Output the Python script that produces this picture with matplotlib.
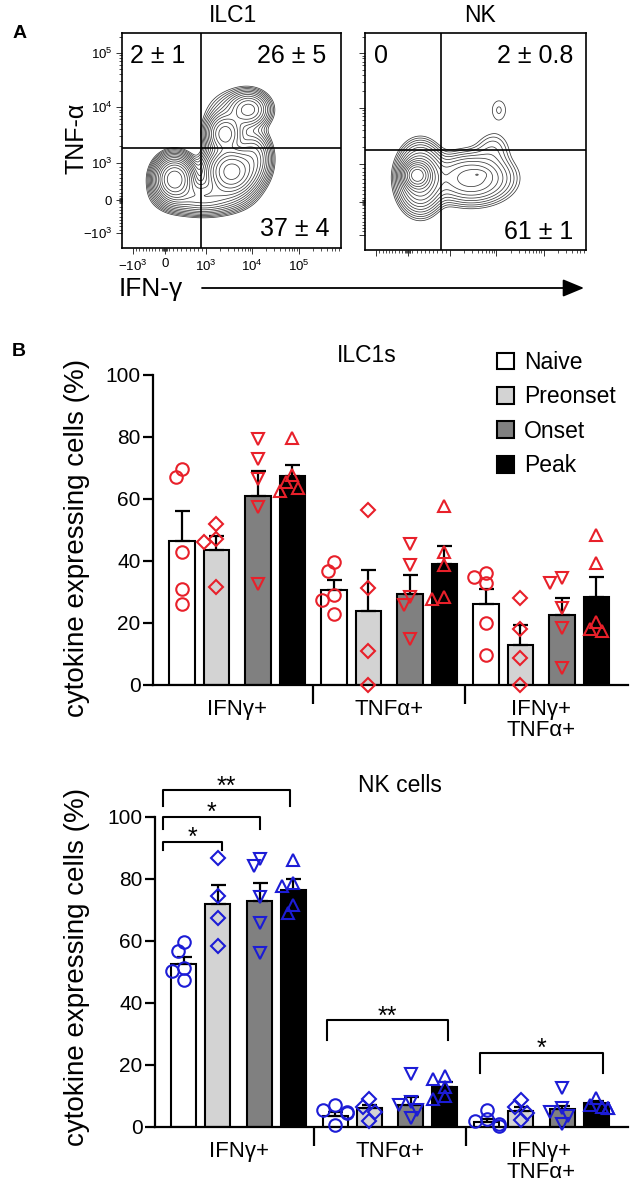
import numpy as np
import matplotlib
matplotlib.use("Agg")
import matplotlib.pyplot as plt

plt.rcParams['font.family'] = ['Liberation Sans', 'DejaVu Sans']
plt.rcParams['mathtext.fontset'] = 'custom'
plt.rcParams['mathtext.rm'] = 'Liberation Sans'
plt.rcParams['mathtext.it'] = 'Liberation Sans:italic'

W, H = 630, 1191

# ---------------- panel A : flow data, as density blobs
# (x, y, sx, sy, weight) in fractions of each plot box
ilc1_blobs = [(0.24, 0.32, 0.042, 0.048, 1.0),
              (0.50, 0.355, 0.055, 0.055, 0.9),
              (0.47, 0.53, 0.04, 0.045, 0.35),
              (0.58, 0.645, 0.045, 0.04, 0.22),
              (0.37, 0.24, 0.09, 0.04, 0.2),
              (0.60, 0.42, 0.04, 0.06, 0.18),
              (0.52, 0.62, 0.07, 0.06, 0.05)]
nk_blobs = [(0.235, 0.345, 0.03, 0.03, 1.0),
            (0.25, 0.33, 0.05, 0.075, 0.35),
            (0.48, 0.33, 0.095, 0.06, 0.18),
            (0.515, 0.35, 0.025, 0.012, 0.04),
            (0.58, 0.47, 0.05, 0.05, 0.025),
            (0.606, 0.645, 0.035, 0.05, 0.017)]
ilc1_quads = ['2 ± 1', '26 ± 5', '37 ± 4']
nk_quads = ['0', '2 ± 0.8', '61 ± 1']
flow_tick_labels = ['$-10^3$', '0', '$10^3$', '$10^4$', '$10^5$']

# ---------------- panel B : bar data
categories = ['Naive', 'Preonset', 'Onset', 'Peak']
groups = ['IFNγ+', 'TNFα+', 'IFNγ+\nTNFα+']

ilc1_mean = [[46.5, 43.5, 61, 67.5], [30.5, 24, 29.5, 39], [26, 13, 22.5, 28.5]]
ilc1_sem = [[9.5, 4.5, 8, 3.5], [3.5, 13, 6, 6], [5, 6.5, 5.5, 6.5]]
ilc1_ifng = [[69.7, 67, 43, 31, 26], [52, 47, 46, 31.6],
             [79.4, 73, 66.5, 57.4, 32.6], [79.7, 67.7, 65.5, 63.5, 62.7]]
ilc1_tnfa = [[39.7, 36.8, 29, 27.4, 23], [56.4, 31.3, 11, 0],
             [45.5, 38.7, 28.4, 25.8, 15], [57.7, 43, 38.7, 28.4, 27.7]]
ilc1_both = [[36, 35, 32.8, 20, 9.7], [28, 18, 8.7, 0],
             [34.5, 33, 24.8, 18.4, 5.4], [48.4, 39.3, 20.3, 18, 17.5]]

nk_mean = [[52.5, 72, 73, 76.5], [3.5, 6, 7, 13], [1.6, 5.2, 5.7, 7.7]]
nk_sem = [[2.5, 6, 5.7, 3.5], [1.2, 1.2, 2.6, 1.5], [1, 1.2, 1, 0.6]]
nk_ifng = [[59.7, 56.8, 51.3, 50.4, 47.4], [86.8, 74.6, 67.5, 58.4],
           [86.5, 84.2, 74.3, 65.8, 56], [86, 78.6, 77.8, 71.6, 69]]
nk_tnfa = [[7, 5.5, 5, 4.5, 0.5], [9, 6.5, 5, 2],
           [17, 8, 7, 5.5, 3], [16.5, 15.5, 13, 10, 9]]
nk_both = [[5.5, 2.5, 2, 1, 0.3], [8.7, 6.5, 4.5, 2.3],
           [12.5, 6, 5, 3.5, 1], [9.5, 7, 6.5, 6.2, 6]]

# (group, x left, x right, y, leg, label)
nk_sig = [(0, -0.138, 0.25, 92, 2.6, '*'),
          (0, -0.138, 0.50, 100, 4, '*'),
          (0, -0.138, 0.704, 108.7, 5.2, '**'),
          (1, -0.053, 0.743, 34.5, 6.5, '**'),
          (2, -0.046, 0.77, 24, 6.5, '*')]

bar_colors = ['white', '#d3d3d3', '#808080', 'black']
markers = ['o', 'D', 'v', '^']
offsets = [0, 0.224, 0.5, 0.724]
bw = 0.165
PX_X, PX_Y = 152.0, 3.1  # pixels per data unit in bar charts


def rect(l, t, r, b):
    return [l / W, 1 - b / H, (r - l) / W, (b - t) / H]


fig = plt.figure(figsize=(W / 100, H / 100), dpi=100)
over = fig.add_axes([0, 0, 1, 1])
over.set_xlim(0, W)
over.set_ylim(H, 0)
over.axis('off')
over.set_zorder(10)


def flow_ticks(ax, labels):
    maj = [0.05, 0.196, 0.384, 0.594, 0.808]
    minor = []
    for k in range(1, 10):
        minor.append(0.196 + 0.188 * k / 10)
        minor.append(0.196 - 0.146 * k / 10)
    for d in [0.003, 0.006, 0.009]:
        minor += [0.196 - d, 0.196 + d]
    for base, dec in [(0.384, 0.21), (0.594, 0.214), (0.808, 0.214)]:
        for k in range(2, 10):
            p = base + dec * np.log10(k)
            if p < 1:
                minor.append(p)
    ymaj = [0.07, 0.223, 0.395, 0.656, 0.907]
    yminor = []
    for k in range(1, 10):
        yminor.append(0.223 + 0.172 * k / 10)
        yminor.append(0.223 - 0.153 * k / 10)
    for d in [0.003, 0.006, 0.009]:
        yminor += [0.223 - d, 0.223 + d]
    for base, dec in [(0.395, 0.261), (0.656, 0.251), (0.907, 0.251)]:
        for k in range(2, 10):
            p = base + dec * np.log10(k)
            if p < 1:
                yminor.append(p)
    ax.set_xticks(maj)
    ax.set_yticks(ymaj)
    ax.set_xticks(minor, minor=True)
    ax.set_yticks(yminor, minor=True)
    if labels:
        ax.set_xticklabels(flow_tick_labels)
        ax.set_yticklabels(flow_tick_labels)
    else:
        ax.set_xticklabels([])
        ax.set_yticklabels([])
    ax.tick_params(which='major', length=4, width=0.7, color='#333333', labelsize=9.5, pad=3)
    ax.tick_params(axis='x', which='major', pad=3.5)
    ax.tick_params(which='minor', length=2.5, width=0.6, color='#333333')


def flow_panel(box, blobs, qx, qy, quads, quad_pos, labels):
    ax = fig.add_axes(rect(*box))
    g = np.linspace(0, 1, 400)
    X, Y = np.meshgrid(g, g)
    Z = np.zeros_like(X)
    for (cx, cy, sx, sy, w) in blobs:
        Z += w * np.exp(-0.5 * (((X - cx) / sx) ** 2 + ((Y - cy) / sy) ** 2))
    levels = Z.max() * 0.73 ** np.arange(15, 0, -1)
    ax.contour(X, Y, Z, levels=levels, colors='#3a3a3a', linewidths=0.55)
    ax.axvline(qx, color='black', lw=1.2)
    ax.axhline(qy, color='black', lw=1.2)
    ax.set_xlim(0, 1)
    ax.set_ylim(0, 1)
    for s in ax.spines.values():
        s.set_linewidth(1.2)
    flow_ticks(ax, labels)
    for txt, (x, y, ha) in zip(quads, quad_pos):
        over.text(x, y, txt, ha=ha, va='center', fontsize=18)
    return ax


flow_panel((122, 33, 341, 248), ilc1_blobs, 0.36, 0.465, ilc1_quads,
           [(130, 56, 'left'), (326, 56, 'right'), (329, 229, 'right')], True)
flow_panel((365, 33, 586, 250), nk_blobs, 0.344, 0.46, nk_quads,
           [(374, 56, 'left'), (573, 56, 'right'), (573, 232, 'right')], False)

over.text(20, 33, 'A', fontsize=14, fontweight='bold', ha='center', va='center')
over.text(233, 16, 'ILC1', fontsize=16.5, ha='center', va='center')
over.text(480, 16, 'NK', fontsize=16.5, ha='center', va='center')
over.text(77, 138, 'TNF-α', fontsize=18, rotation=90, ha='center', va='center')
over.text(119, 289, 'IFN-γ', fontsize=19, ha='left', va='center')
over.annotate('', xy=(584, 288), xytext=(202, 288),
              arrowprops=dict(arrowstyle='-|>,head_length=0.65,head_width=0.27',
                              mutation_scale=20, lw=1.3, color='black',
                              shrinkA=0, shrinkB=0))


# ---------------- panel B
def swarm(values, center, d_px=6, r_px=9):
    placed, xs = [], []
    for v in values:
        for k in [0, -1, 1, -2, 2]:
            x = k * d_px
            if all((x - px) ** 2 + ((v - pv) * PX_Y) ** 2 >= r_px ** 2 for px, pv in placed):
                break
        placed.append((x, v))
        xs.append(center + x / PX_X)
    return xs


def bar_panel(box, means, sems, pts, color):
    ax = fig.add_axes(rect(*box))
    for c in range(4):
        xs = [g + offsets[c] for g in range(3)]
        hs = [means[g][c] for g in range(3)]
        ax.bar(xs, hs, bw, color=bar_colors[c], edgecolor='black', linewidth=1.5,
               label=categories[c], zorder=2)
        ax.errorbar(xs, hs, yerr=[[0] * 3, [sems[g][c] for g in range(3)]], fmt='none',
                    ecolor='black', elinewidth=1.6, capsize=5.4, capthick=1.6, zorder=3)
    for g in range(3):
        for c in range(4):
            vals = pts[g][c]
            ms = 7.2 if markers[c] == 'D' else 9
            ax.plot(swarm(vals, g + offsets[c]), vals, linestyle='none', marker=markers[c],
                    ms=ms, mfc='none', mec=color, mew=1.5, zorder=4, clip_on=False)
    ax.set_xlim(-0.191, 2.934)
    ax.set_ylim(0, 100)
    ax.spines[['top', 'right']].set_visible(False)
    ax.spines[['left', 'bottom']].set_linewidth(1.6)
    ax.set_yticks(range(0, 101, 20))
    ax.tick_params(axis='y', length=7, width=1.6, labelsize=15, pad=2)
    ax.set_xticks([g + 0.362 for g in range(3)], groups)
    ax.set_xticks([0.862, 1.862], minor=True)
    ax.tick_params(axis='x', which='major', length=0, labelsize=16, pad=10)
    ax.tick_params(axis='x', which='minor', length=14, width=1.6)
    for t in ax.get_xticklabels():
        t.set_linespacing(1.0)
    return ax


ax1 = bar_panel((153, 375, 628, 685), ilc1_mean, ilc1_sem, [ilc1_ifng, ilc1_tnfa, ilc1_both], '#e8202a')
ax2 = bar_panel((155, 817, 628, 1127), nk_mean, nk_sem, [nk_ifng, nk_tnfa, nk_both], '#1c1cd6')

ax1.legend(loc='upper left', bbox_to_anchor=(497 / W, 1 - 351 / H), bbox_transform=fig.transFigure,
           frameon=False, borderpad=0, borderaxespad=0, handlelength=0.76, handleheight=0.76,
           handletextpad=0.42, labelspacing=0.5, fontsize=16.5)

for (g, x0, x1, y, leg, lab) in nk_sig:
    ax2.plot([g + x0, g + x0, g + x1, g + x1], [y - leg, y, y, y - leg], color='black',
             lw=1.5, clip_on=False, zorder=5)
    ax2.annotate(lab, xy=(g + (x0 + x1) / 2, y), xytext=(0, -6), textcoords='offset points',
                 ha='center', va='bottom', fontsize=18, annotation_clip=False)

over.text(19, 351, 'B', fontsize=14, fontweight='bold', ha='center', va='center')
over.text(367, 356, 'ILC1s', fontsize=16.5, ha='center', va='center')
over.text(400, 786, 'NK cells', fontsize=16.5, ha='center', va='center')
for yc in [538, 967]:
    over.text(77, yc, 'cytokine expressing cells (%)', fontsize=20, rotation=90,
              ha='center', va='center')

fig.savefig('out.png', dpi=100)
